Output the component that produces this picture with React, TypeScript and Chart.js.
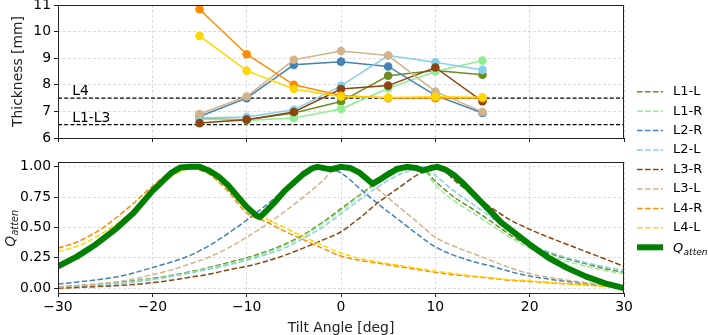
import React, { useEffect, useRef } from 'react';
import { Chart, registerables } from 'chart.js';

Chart.register(...registerables);

// ---------------- data ----------------
const seriesNames = ['L1-L', 'L1-R', 'L2-R', 'L2-L', 'L3-R', 'L3-L', 'L4-R', 'L4-L'];
const seriesColors = ['#6b8e23', '#90ee90', '#4682b4', '#87ceeb', '#8b4513', '#d2b48c', '#ff8c00', '#ffd700'];

// top panel: thickness vs tilt angle
const thicknessAngles = [-15, -10, -5, 0, 5, 10, 15];
const thickL1L = [6.72, 6.69, 6.94, 7.37, 8.34, 8.54, 8.38];
const thickL1R = [6.71, 6.66, 6.75, 7.09, 7.87, 8.5, 8.91];
const thickL2R = [6.81, 7.5, 8.75, 8.87, 8.69, 7.6, 6.94];
const thickL2L = [6.75, 6.79, 7.06, 7.96, 9.1, 8.85, 8.56];
const thickL3R = [6.56, 6.69, 6.98, 7.84, 7.97, 8.65, 7.38];
const thickL3L = [6.9, 7.56, 8.94, 9.27, 9.1, 7.75, 6.98];
const thickL4R = [10.84, 9.15, 8.0, 7.6, 7.5, 7.5, 7.5];
const thickL4L = [9.84, 8.53, 7.84, 7.56, 7.52, 7.55, 7.53];
const thicknessSeries = [thickL1L, thickL1R, thickL2R, thickL2L, thickL3R, thickL3L, thickL4R, thickL4L];

const refLevels = [7.5, 6.5];
const refLabels = ['L4', 'L1-L3'];
const refLabelAngle = -28.5;

// bottom panel: Q_atten curves
const angleGrid = [-30, -28, -26, -24, -22, -20, -18, -16, -14, -12, -10, -8, -6, -4, -2, 0, 2, 4, 6, 8, 10, 12, 14, 16, 18, 20, 22, 24, 26, 28, 30];
const qL1L = [0.01, 0.02, 0.03, 0.045, 0.06, 0.08, 0.105, 0.135, 0.17, 0.21, 0.25, 0.3, 0.36, 0.44, 0.54, 0.655, 0.77, 0.88, 0.96, 0.995, 0.88, 0.75, 0.65, 0.545, 0.435, 0.35, 0.29, 0.24, 0.2, 0.16, 0.13];
const qL1R = [0.008, 0.016, 0.026, 0.04, 0.055, 0.075, 0.1, 0.13, 0.165, 0.2, 0.24, 0.29, 0.35, 0.43, 0.53, 0.64, 0.76, 0.87, 0.955, 0.995, 0.85, 0.72, 0.62, 0.515, 0.415, 0.33, 0.27, 0.22, 0.18, 0.145, 0.12];
const qL2R = [0.035, 0.05, 0.068, 0.09, 0.125, 0.17, 0.215, 0.27, 0.35, 0.45, 0.56, 0.68, 0.81, 0.93, 0.998, 0.95, 0.82, 0.69, 0.57, 0.45, 0.34, 0.27, 0.22, 0.18, 0.135, 0.1, 0.075, 0.055, 0.035, 0.02, 0.005];
const qL2L = [0.006, 0.013, 0.022, 0.035, 0.05, 0.07, 0.095, 0.125, 0.155, 0.19, 0.23, 0.275, 0.33, 0.41, 0.5, 0.615, 0.73, 0.84, 0.93, 0.985, 0.93, 0.8, 0.69, 0.58, 0.46, 0.36, 0.3, 0.25, 0.21, 0.175, 0.15];
const qL3R = [0.0, 0.005, 0.012, 0.02, 0.03, 0.045, 0.065, 0.09, 0.115, 0.15, 0.18, 0.22, 0.27, 0.33, 0.395, 0.465, 0.58, 0.71, 0.82, 0.93, 0.995, 0.89, 0.77, 0.66, 0.56, 0.485, 0.42, 0.36, 0.3, 0.24, 0.18];
const qL3L = [0.008, 0.02, 0.035, 0.05, 0.075, 0.11, 0.15, 0.2, 0.255, 0.33, 0.42, 0.52, 0.63, 0.75, 0.88, 0.995, 0.94, 0.81, 0.68, 0.55, 0.42, 0.345, 0.285, 0.225, 0.165, 0.12, 0.09, 0.066, 0.045, 0.024, 0.005];
const qL4R = [0.33, 0.38, 0.46, 0.57, 0.7, 0.84, 0.96, 0.995, 0.94, 0.8, 0.62, 0.55, 0.47, 0.4, 0.33, 0.265, 0.23, 0.205, 0.18, 0.155, 0.13, 0.11, 0.095, 0.08, 0.065, 0.055, 0.045, 0.035, 0.025, 0.015, 0.005];
const qL4L = [0.3, 0.345, 0.42, 0.52, 0.64, 0.79, 0.92, 0.99, 0.98, 0.86, 0.66, 0.575, 0.5, 0.425, 0.355, 0.29, 0.245, 0.215, 0.19, 0.165, 0.14, 0.12, 0.1, 0.085, 0.07, 0.06, 0.048, 0.037, 0.027, 0.015, 0.005];
const qSeries = [qL1L, qL1R, qL2R, qL2L, qL3R, qL3L, qL4R, qL4L];
const qPeakAngles = [8.4, 8.4, -2.3, 9, 10.3, -0.3, -16.5, -15];

const qAttenAngles = [-30, -28, -26, -24, -22, -20, -18, -17, -16, -15, -14, -13, -12, -11, -10, -9, -8.6, -8, -7, -6, -5, -4, -3, -2.5, -1.5, -1, 0, 1, 2, 3.35, 4, 5, 6, 7, 8, 8.7, 9.5, 10.2, 11, 12, 13, 14, 15, 16, 17, 18, 19, 20, 22, 24, 26, 28, 30];
const qAttenValues = [0.18, 0.26, 0.36, 0.48, 0.62, 0.8, 0.95, 0.995, 1.0, 1.0, 0.97, 0.92, 0.85, 0.76, 0.67, 0.6, 0.585, 0.63, 0.71, 0.8, 0.87, 0.94, 0.99, 1.0, 0.985, 0.98, 1.0, 0.99, 0.95, 0.86, 0.89, 0.94, 0.985, 1.0, 0.99, 0.97, 0.99, 1.0, 0.98, 0.93, 0.86, 0.78, 0.7, 0.62, 0.54, 0.48, 0.42, 0.36, 0.25, 0.165, 0.095, 0.04, 0.0];

// ---------------- styling ----------------
const FONT = 'DejaVu Sans';
const FS = 13.9;
const GRID = '#d4d4d4';
const AXIS = '#222';
const W = 708;
const H = 335;
const PLOT_LEFT = 58;
const PLOT_RIGHT = 624;
const TOP_TOP = 5;
const TOP_BOTTOM = 138;
const BOT_TOP = 162;
const BOT_BOTTOM = 293;

Chart.defaults.font.family = FONT;

const fmtAngle = (v: any) => (Number(v) < 0 ? '\u2212' + Math.abs(Number(v)) : String(v));

function xScale(showLabels: boolean, heightPx: number) {
  return {
    type: 'linear',
    min: -30,
    max: 30,
    ticks: {
      stepSize: 10,
      autoSkip: false,
      maxRotation: 0,
      padding: 2,
      color: '#000',
      font: { family: FONT, size: FS },
      callback: showLabels ? fmtAngle : () => '',
    },
    grid: { color: GRID, lineWidth: 0.8, drawTicks: true, tickLength: 4, tickColor: AXIS, tickWidth: 1, tickBorderDash: [] },
    border: { display: false, dash: [3, 2] },
    afterFit: (s: any) => {
      s.height = heightPx;
      s.paddingLeft = 0;
      s.paddingRight = 0;
    },
  };
}

function yScale(min: number, max: number, step: number, fmt: (v: any) => string, title?: string) {
  return {
    type: 'linear',
    min,
    max,
    ticks: { stepSize: step, includeBounds: false, padding: 3, color: '#000', font: { family: FONT, size: FS }, callback: fmt },
    grid: { color: GRID, lineWidth: 0.8, drawTicks: true, tickLength: 4, tickColor: AXIS, tickWidth: 1, tickBorderDash: [] },
    border: { display: false, dash: [3, 2] },
    title: title
      ? { display: true, text: title, color: '#222', font: { family: FONT, size: FS }, padding: { top: 10, bottom: 0 } }
      : { display: false },
    afterFit: (s: any) => {
      s.width = PLOT_LEFT;
      s.paddingTop = 0;
      s.paddingBottom = 0;
    },
  };
}

const boxPlugin = {
  id: 'axesBox',
  afterDraw(chart: any) {
    const { ctx, chartArea: a } = chart;
    ctx.save();
    ctx.strokeStyle = AXIS;
    ctx.lineWidth = 1;
    ctx.setLineDash([]);
    ctx.strokeRect(Math.floor(a.left) + 0.5, Math.floor(a.top) + 0.5, Math.round(a.width) - 1, Math.round(a.height));
    ctx.restore();
  },
};

const refLabelPlugin = {
  id: 'refLabels',
  afterDatasetsDraw(chart: any) {
    const { ctx, scales } = chart;
    ctx.save();
    ctx.font = `${FS}px "${FONT}"`;
    ctx.fillStyle = '#000';
    ctx.textBaseline = 'alphabetic';
    ctx.textAlign = 'left';
    refLevels.forEach((lv, i) => {
      ctx.fillText(refLabels[i], scales.x.getPixelForValue(refLabelAngle), scales.y.getPixelForValue(lv) - 3);
    });
    ctx.restore();
  },
};

function drawQ(ctx: CanvasRenderingContext2D, x: number, y: number, size: number) {
  const f1 = `italic ${size}px "${FONT}"`;
  const f2 = `italic ${size * 0.7}px "${FONT}"`;
  ctx.font = f1;
  const w1 = ctx.measureText('Q').width;
  ctx.fillText('Q', x, y);
  ctx.font = f2;
  ctx.fillText('atten', x + w1 + 0.3, y + size * 0.2);
  return w1 + ctx.measureText('atten').width;
}

const qTitlePlugin = {
  id: 'qTitle',
  afterDraw(chart: any) {
    const { ctx, chartArea: a } = chart;
    ctx.save();
    ctx.fillStyle = '#222';
    ctx.textBaseline = 'alphabetic';
    ctx.textAlign = 'left';
    ctx.font = `italic ${FS}px "${FONT}"`;
    const w1 = ctx.measureText('Q').width;
    ctx.font = `italic ${FS * 0.7}px "${FONT}"`;
    const w2 = ctx.measureText('atten').width;
    ctx.translate(15, (a.top + a.bottom) / 2 + 1);
    ctx.rotate(-Math.PI / 2);
    drawQ(ctx, -(w1 + w2) / 2, 0, FS);
    ctx.restore();
  },
};

const legendPlugin = {
  id: 'figLegend',
  afterDraw(chart: any) {
    const { ctx } = chart;
    const x0 = 637;
    const x1 = 663;
    const tx = 673;
    const y0 = 91.7;
    const dy = 19.45;
    ctx.save();
    ctx.textBaseline = 'middle';
    ctx.textAlign = 'left';
    seriesNames.forEach((name, i) => {
      const y = y0 + i * dy;
      ctx.strokeStyle = seriesColors[i];
      ctx.lineWidth = 1.5;
      ctx.setLineDash([5.55, 2.4]);
      ctx.beginPath();
      ctx.moveTo(x0, y);
      ctx.lineTo(x1, y);
      ctx.stroke();
      ctx.fillStyle = '#000';
      ctx.font = `13px "${FONT}"`;
      ctx.fillText(name, tx, y);
    });
    const yq = y0 + seriesNames.length * dy;
    ctx.setLineDash([]);
    ctx.strokeStyle = '#008000';
    ctx.lineWidth = 6;
    ctx.beginPath();
    ctx.moveTo(x0, yq);
    ctx.lineTo(x1, yq);
    ctx.stroke();
    ctx.fillStyle = '#000';
    ctx.textBaseline = 'alphabetic';
    drawQ(ctx, tx, yq + 4.6, 13);
    ctx.restore();
  },
};

function topConfig(): any {
  const n = seriesNames.length;
  const datasets: any[] = refLevels.map((lv) => ({
    data: [{ x: -30, y: lv }, { x: 30, y: lv }],
    borderColor: '#000',
    borderWidth: 1.2,
    borderDash: [4, 2.2],
    pointRadius: 0,
    fill: false,
    order: n + 5,
    clip: 0,
  }));
  thicknessSeries.forEach((vals, i) => {
    datasets.push({
      label: seriesNames[i],
      data: thicknessAngles.map((x, j) => ({ x, y: vals[j] })),
      borderColor: seriesColors[i],
      backgroundColor: seriesColors[i],
      pointBackgroundColor: seriesColors[i],
      pointBorderWidth: 0,
      pointRadius: 4.3,
      borderWidth: 1.5,
      tension: 0,
      fill: false,
      order: n - i,
      clip: 0,
    });
  });
  return {
    type: 'line',
    data: { datasets },
    options: {
      responsive: false,
      animation: false,
      events: [],
      layout: { padding: { left: 0, top: TOP_TOP, right: W - PLOT_RIGHT, bottom: 0 } },
      plugins: { legend: { display: false }, tooltip: { enabled: false } },
      scales: {
        x: xScale(false, H - TOP_BOTTOM),
        y: yScale(6, 11, 1, (v: any) => String(v), 'Thickness [mm]'),
      },
    },
    plugins: [boxPlugin, refLabelPlugin],
  };
}

function bottomConfig(): any {
  const n = seriesNames.length;
  const datasets: any[] = qSeries.map((vals, i) => {
    const pts = angleGrid.map((x, j) => ({ x, y: vals[j] }));
    pts.push({ x: qPeakAngles[i], y: 1.0 });
    pts.sort((a, b) => a.x - b.x);
    return {
      label: seriesNames[i],
      data: pts,
      borderColor: seriesColors[i],
      borderWidth: 1.5,
      borderDash: [5.55, 2.4],
      pointRadius: 0,
      cubicInterpolationMode: 'monotone',
      fill: false,
      order: n + 1 - i,
      clip: 0,
    };
  });
  datasets.push({
    label: 'Q_atten',
    data: qAttenAngles.map((x, j) => ({ x, y: qAttenValues[j] })),
    borderColor: '#008000',
    borderWidth: 6,
    borderJoinStyle: 'round',
    pointRadius: 0,
    tension: 0,
    fill: false,
    order: 0,
    clip: 0,
  });
  return {
    type: 'line',
    data: { datasets },
    options: {
      responsive: false,
      animation: false,
      events: [],
      layout: { padding: { left: 0, top: BOT_TOP, right: W - PLOT_RIGHT, bottom: 0 } },
      plugins: { legend: { display: false }, tooltip: { enabled: false } },
      scales: {
        x: {
          ...xScale(true, H - BOT_BOTTOM),
          title: {
            display: true,
            text: 'Tilt Angle [deg]',
            color: '#222',
            font: { family: FONT, size: FS, lineHeight: 1.0 },
            padding: { top: 0, bottom: 0 },
          },
        },
        y: yScale(-0.04, 1.04, 0.25, (v: any) => Number(v).toFixed(2)),
      },
    },
    plugins: [boxPlugin, qTitlePlugin, legendPlugin],
  };
}

export default function App() {
  const topRef = useRef<HTMLCanvasElement>(null);
  const botRef = useRef<HTMLCanvasElement>(null);
  useEffect(() => {
    const top = new Chart(topRef.current as HTMLCanvasElement, topConfig());
    const bot = new Chart(botRef.current as HTMLCanvasElement, bottomConfig());
    return () => {
      top.destroy();
      bot.destroy();
    };
  }, []);
  return (
    <div style={{ position: 'fixed', left: 0, top: 0, width: W, height: H, background: '#fff' }}>
      <canvas ref={topRef} width={W} height={H} style={{ position: 'absolute', left: 0, top: 0 }} />
      <canvas ref={botRef} width={W} height={H} style={{ position: 'absolute', left: 0, top: 0 }} />
    </div>
  );
}
